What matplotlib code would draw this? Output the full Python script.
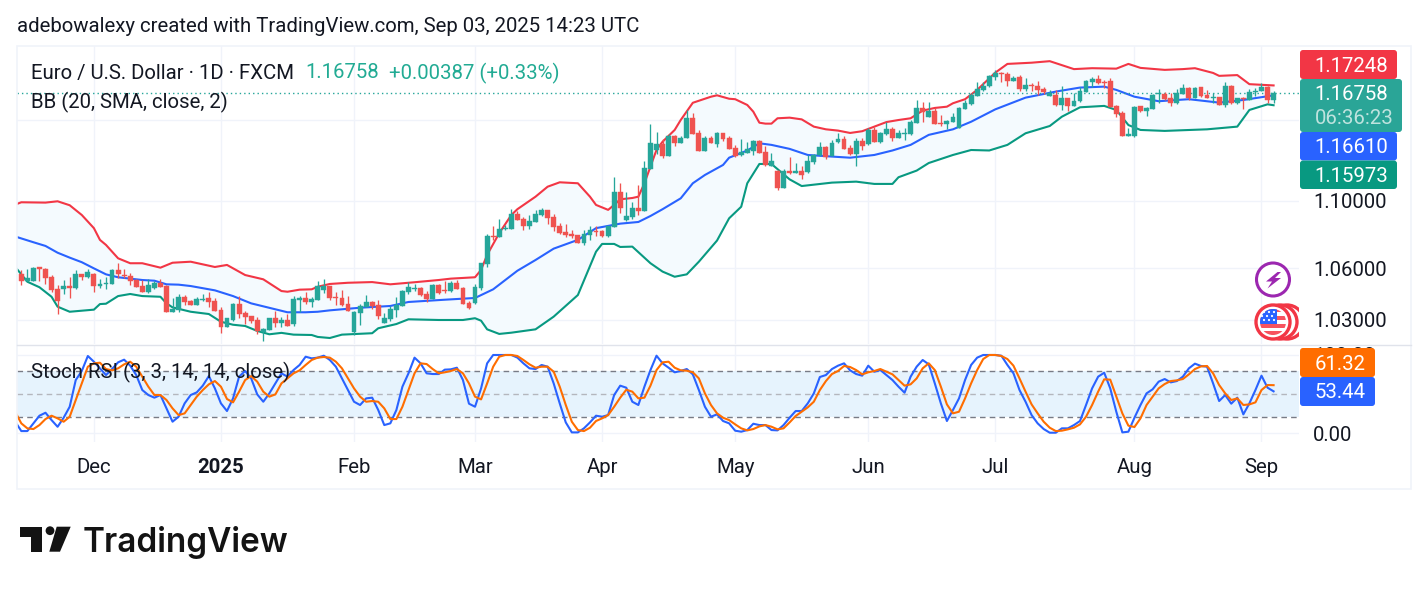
import numpy as np
import matplotlib
matplotlib.use('Agg')
import matplotlib.pyplot as plt
from matplotlib.patches import Circle, FancyBboxPatch, Polygon, Rectangle

plt.rcParams['font.family'] = ['Roboto', 'DejaVu Sans']

# daily EURUSD candles
opens = [
    1.0565, 1.0522, 1.0526, 1.0604, 1.0592, 1.0546, 1.0478, 1.0480, 1.0495, 1.0484,
    1.0565, 1.0546, 1.0565, 1.0495, 1.0507, 1.0507, 1.0589, 1.0561, 1.0553, 1.0530,
    1.0495, 1.0460, 1.0482, 1.0515, 1.0495, 1.0346, 1.0357, 1.0430, 1.0406, 1.0386,
    1.0414, 1.0426, 1.0408, 1.0357, 1.0262, 1.0300, 1.0391, 1.0340, 1.0323, 1.0298,
    1.0232, 1.0244, 1.0311, 1.0283, 1.0300, 1.0277, 1.0416, 1.0426, 1.0403, 1.0414,
    1.0472, 1.0495, 1.0433, 1.0426, 1.0391, 1.0232, 1.0340, 1.0372, 1.0403, 1.0386,
    1.0283, 1.0306, 1.0357, 1.0380, 1.0460, 1.0476, 1.0484, 1.0449, 1.0418, 1.0503,
    1.0472, 1.0466, 1.0512, 1.0484, 1.0397, 1.0397, 1.0484, 1.0624, 1.0790, 1.0784,
    1.0831, 1.0831, 1.0921, 1.0891, 1.0849, 1.0873, 1.0915, 1.0946, 1.0903, 1.0849,
    1.0814, 1.0802, 1.0796, 1.0748, 1.0796, 1.0819, 1.0819, 1.0790, 1.0843, 1.1055,
    1.0885, 1.0903, 1.0958, 1.0939, 1.1196, 1.1315, 1.1352, 1.1277, 1.1402, 1.1358,
    1.1390, 1.1516, 1.1421, 1.1308, 1.1390, 1.1352, 1.1421, 1.1390, 1.1327, 1.1283,
    1.1296, 1.1308, 1.1371, 1.1302, 1.1215, 1.1184, 1.1079, 1.1184, 1.1171, 1.1184,
    1.1178, 1.1240, 1.1283, 1.1333, 1.1277, 1.1365, 1.1383, 1.1327, 1.1290, 1.1371,
    1.1352, 1.1440, 1.1365, 1.1415, 1.1446, 1.1390, 1.1417, 1.1415, 1.1484, 1.1580,
    1.1522, 1.1561, 1.1484, 1.1478, 1.1490, 1.1453, 1.1573, 1.1605, 1.1657, 1.1696,
    1.1722, 1.1781, 1.1807, 1.1800, 1.1755, 1.1781, 1.1703, 1.1729, 1.1722, 1.1703,
    1.1659, 1.1664, 1.1599, 1.1644, 1.1593, 1.1625, 1.1683, 1.1748, 1.1768, 1.1748,
    1.1755, 1.1593, 1.1548, 1.1402, 1.1402, 1.1593, 1.1561, 1.1573, 1.1670, 1.1670,
    1.1644, 1.1612, 1.1670, 1.1709, 1.1644, 1.1716, 1.1664, 1.1644, 1.1651, 1.1599,
    1.1722, 1.1612, 1.1644, 1.1631, 1.1683, 1.1690, 1.1716, 1.1631,
]
highs = [
    1.0589, 1.0592, 1.0604, 1.0604, 1.0600, 1.0557, 1.0499, 1.0530, 1.0546, 1.0589,
    1.0565, 1.0596, 1.0569, 1.0534, 1.0546, 1.0592, 1.0628, 1.0592, 1.0569, 1.0538,
    1.0530, 1.0534, 1.0526, 1.0534, 1.0499, 1.0426, 1.0449, 1.0445, 1.0414, 1.0430,
    1.0449, 1.0462, 1.0424, 1.0372, 1.0311, 1.0399, 1.0437, 1.0353, 1.0323, 1.0315,
    1.0253, 1.0311, 1.0353, 1.0315, 1.0334, 1.0437, 1.0437, 1.0460, 1.0430, 1.0522,
    1.0534, 1.0495, 1.0462, 1.0472, 1.0437, 1.0349, 1.0391, 1.0441, 1.0410, 1.0414,
    1.0338, 1.0380, 1.0433, 1.0472, 1.0518, 1.0507, 1.0487, 1.0464, 1.0507, 1.0505,
    1.0522, 1.0522, 1.0530, 1.0487, 1.0410, 1.0507, 1.0629, 1.0802, 1.0849, 1.0889,
    1.0855, 1.0952, 1.0942, 1.0901, 1.0915, 1.0946, 1.0958, 1.0946, 1.0921, 1.0865,
    1.0861, 1.0825, 1.0796, 1.0825, 1.0849, 1.0849, 1.0825, 1.0849, 1.1144, 1.1107,
    1.1055, 1.0994, 1.1098, 1.1246, 1.1478, 1.1427, 1.1383, 1.1415, 1.1406, 1.1402,
    1.1567, 1.1546, 1.1440, 1.1402, 1.1402, 1.1427, 1.1421, 1.1402, 1.1346, 1.1383,
    1.1365, 1.1377, 1.1377, 1.1340, 1.1294, 1.1190, 1.1194, 1.1271, 1.1233, 1.1215,
    1.1283, 1.1290, 1.1365, 1.1340, 1.1377, 1.1421, 1.1402, 1.1346, 1.1390, 1.1390,
    1.1453, 1.1461, 1.1427, 1.1490, 1.1459, 1.1440, 1.1453, 1.1503, 1.1631, 1.1618,
    1.1618, 1.1578, 1.1535, 1.1503, 1.1546, 1.1586, 1.1631, 1.1674, 1.1748, 1.1748,
    1.1794, 1.1826, 1.1813, 1.1809, 1.1787, 1.1792, 1.1774, 1.1740, 1.1755, 1.1716,
    1.1696, 1.1696, 1.1722, 1.1644, 1.1677, 1.1716, 1.1761, 1.1781, 1.1794, 1.1761,
    1.1774, 1.1599, 1.1561, 1.1453, 1.1593, 1.1593, 1.1588, 1.1670, 1.1703, 1.1683,
    1.1674, 1.1703, 1.1735, 1.1716, 1.1716, 1.1716, 1.1696, 1.1677, 1.1651, 1.1748,
    1.1729, 1.1644, 1.1651, 1.1703, 1.1709, 1.1742, 1.1722, 1.1690,
]
lows = [
    1.0501, 1.0522, 1.0526, 1.0526, 1.0507, 1.0462, 1.0334, 1.0449, 1.0426, 1.0478,
    1.0530, 1.0542, 1.0460, 1.0482, 1.0476, 1.0507, 1.0540, 1.0542, 1.0503, 1.0488,
    1.0460, 1.0453, 1.0476, 1.0488, 1.0346, 1.0346, 1.0346, 1.0386, 1.0386, 1.0386,
    1.0406, 1.0372, 1.0349, 1.0228, 1.0262, 1.0296, 1.0310, 1.0277, 1.0281, 1.0221,
    1.0183, 1.0244, 1.0262, 1.0262, 1.0266, 1.0266, 1.0346, 1.0391, 1.0372, 1.0414,
    1.0456, 1.0414, 1.0386, 1.0380, 1.0351, 1.0217, 1.0274, 1.0372, 1.0361, 1.0308,
    1.0283, 1.0296, 1.0319, 1.0380, 1.0449, 1.0468, 1.0437, 1.0403, 1.0418, 1.0449,
    1.0455, 1.0460, 1.0478, 1.0391, 1.0363, 1.0391, 1.0472, 1.0608, 1.0766, 1.0784,
    1.0825, 1.0831, 1.0885, 1.0825, 1.0831, 1.0873, 1.0909, 1.0861, 1.0821, 1.0802,
    1.0784, 1.0778, 1.0748, 1.0736, 1.0766, 1.0790, 1.0784, 1.0786, 1.0843, 1.0927,
    1.0879, 1.0891, 1.0915, 1.0939, 1.1196, 1.1290, 1.1265, 1.1277, 1.1340, 1.1356,
    1.1390, 1.1415, 1.1308, 1.1308, 1.1358, 1.1333, 1.1371, 1.1321, 1.1269, 1.1277,
    1.1296, 1.1285, 1.1296, 1.1215, 1.1215, 1.1067, 1.1079, 1.1165, 1.1171, 1.1134,
    1.1171, 1.1227, 1.1277, 1.1258, 1.1277, 1.1358, 1.1321, 1.1283, 1.1215, 1.1315,
    1.1346, 1.1365, 1.1358, 1.1408, 1.1371, 1.1390, 1.1377, 1.1408, 1.1484, 1.1490,
    1.1522, 1.1478, 1.1465, 1.1446, 1.1490, 1.1453, 1.1573, 1.1599, 1.1657, 1.1690,
    1.1716, 1.1761, 1.1748, 1.1722, 1.1755, 1.1690, 1.1690, 1.1692, 1.1664, 1.1670,
    1.1657, 1.1593, 1.1567, 1.1559, 1.1593, 1.1618, 1.1683, 1.1716, 1.1735, 1.1709,
    1.1586, 1.1522, 1.1402, 1.1402, 1.1396, 1.1554, 1.1529, 1.1573, 1.1612, 1.1631,
    1.1593, 1.1605, 1.1670, 1.1631, 1.1644, 1.1653, 1.1644, 1.1612, 1.1599, 1.1586,
    1.1605, 1.1605, 1.1573, 1.1631, 1.1657, 1.1690, 1.1612, 1.1612,
]
closes = [
    1.0526, 1.0542, 1.0600, 1.0596, 1.0542, 1.0472, 1.0410, 1.0495, 1.0486, 1.0565,
    1.0548, 1.0577, 1.0495, 1.0505, 1.0515, 1.0589, 1.0565, 1.0553, 1.0526, 1.0488,
    1.0460, 1.0499, 1.0511, 1.0488, 1.0346, 1.0361, 1.0434, 1.0403, 1.0386, 1.0418,
    1.0422, 1.0403, 1.0351, 1.0262, 1.0311, 1.0391, 1.0334, 1.0317, 1.0294, 1.0236,
    1.0247, 1.0311, 1.0283, 1.0300, 1.0266, 1.0418, 1.0426, 1.0403, 1.0418, 1.0495,
    1.0495, 1.0426, 1.0424, 1.0386, 1.0351, 1.0346, 1.0380, 1.0403, 1.0380, 1.0323,
    1.0311, 1.0363, 1.0387, 1.0468, 1.0491, 1.0484, 1.0443, 1.0420, 1.0503, 1.0455,
    1.0464, 1.0512, 1.0478, 1.0391, 1.0368, 1.0489, 1.0629, 1.0790, 1.0784, 1.0831,
    1.0837, 1.0921, 1.0885, 1.0849, 1.0879, 1.0921, 1.0946, 1.0897, 1.0843, 1.0806,
    1.0796, 1.0790, 1.0748, 1.0802, 1.0825, 1.0814, 1.0790, 1.0849, 1.1055, 1.0958,
    1.0909, 1.0958, 1.0939, 1.1202, 1.1358, 1.1352, 1.1277, 1.1402, 1.1358, 1.1390,
    1.1516, 1.1415, 1.1308, 1.1390, 1.1358, 1.1421, 1.1383, 1.1321, 1.1277, 1.1302,
    1.1321, 1.1371, 1.1296, 1.1221, 1.1246, 1.1079, 1.1184, 1.1171, 1.1184, 1.1159,
    1.1246, 1.1283, 1.1333, 1.1271, 1.1358, 1.1383, 1.1321, 1.1290, 1.1371, 1.1340,
    1.1440, 1.1365, 1.1421, 1.1446, 1.1390, 1.1421, 1.1421, 1.1490, 1.1580, 1.1554,
    1.1561, 1.1478, 1.1478, 1.1497, 1.1522, 1.1580, 1.1612, 1.1664, 1.1703, 1.1722,
    1.1787, 1.1807, 1.1798, 1.1755, 1.1774, 1.1703, 1.1729, 1.1722, 1.1696, 1.1683,
    1.1677, 1.1599, 1.1644, 1.1593, 1.1625, 1.1690, 1.1755, 1.1768, 1.1742, 1.1742,
    1.1586, 1.1542, 1.1402, 1.1415, 1.1586, 1.1561, 1.1578, 1.1664, 1.1677, 1.1635,
    1.1612, 1.1677, 1.1709, 1.1644, 1.1709, 1.1657, 1.1644, 1.1651, 1.1599, 1.1722,
    1.1612, 1.1644, 1.1638, 1.1683, 1.1690, 1.1716, 1.1631, 1.16758,
]

# Bollinger bands, 20 SMA, 2 sigma
upper_idx = [
    -1, 0, 4, 6, 8, 10, 12, 13, 14, 16, 18, 20, 23, 25, 28, 32, 34, 37, 40, 43,
    44, 46, 48, 49, 51, 54, 58, 61, 65, 69, 71, 75, 76, 77, 79, 81, 82, 85, 87, 89,
    92, 94, 95, 97, 98, 99, 100, 101, 102, 103, 105, 106, 108, 109, 111, 112, 114, 115, 117, 118,
    120, 121, 122, 123, 124, 125, 127, 129, 131, 133, 135, 137, 139, 141, 143, 145, 147, 149, 151, 153,
    154, 156, 158, 161, 163, 167, 170, 172, 174, 177, 181, 183, 185, 189, 192, 194, 197, 198, 201, 203,
    207,
]
upper = [
    1.0978, 1.0992, 1.0990, 1.0998, 1.0974, 1.0915, 1.0836, 1.0766, 1.0736, 1.0657,
    1.0628, 1.0628, 1.0602, 1.0631, 1.0637, 1.0606, 1.0618, 1.0559, 1.0534, 1.0466,
    1.0462, 1.0474, 1.0476, 1.0491, 1.0507, 1.0514, 1.0518, 1.0505, 1.0517, 1.0530,
    1.0538, 1.0546, 1.0589, 1.0677, 1.0806, 1.0915, 1.0950, 1.1026, 1.1087, 1.1114,
    1.1108, 1.1026, 1.0976, 1.0946, 1.0976, 1.1010, 1.1014, 1.1018, 1.1026, 1.1108,
    1.1315, 1.1366, 1.1440, 1.1503, 1.1613, 1.1626, 1.1652, 1.1661, 1.1639, 1.1636,
    1.1599, 1.1556, 1.1486, 1.1480, 1.1480, 1.1514, 1.1518, 1.1507, 1.1461, 1.1444,
    1.1436, 1.1421, 1.1432, 1.1461, 1.1490, 1.1503, 1.1514, 1.1563, 1.1580, 1.1588,
    1.1610, 1.1636, 1.1696, 1.1808, 1.1865, 1.1873, 1.1883, 1.1857, 1.1831, 1.1837,
    1.1834, 1.1865, 1.1839, 1.1826, 1.1831, 1.1837, 1.1806, 1.1787, 1.1792, 1.1733,
    1.17248,
]
middle_idx = [
    -1, 2, 4, 6, 8, 10, 12, 14, 16, 20, 22, 24, 26, 28, 32, 35, 38, 42, 44, 47,
    49, 51, 56, 61, 64, 70, 75, 78, 82, 85, 88, 92, 95, 99, 102, 104, 106, 109, 111, 113,
    116, 117, 120, 122, 124, 127, 130, 134, 137, 141, 144, 147, 150, 154, 157, 161, 166, 171, 175, 179,
    181, 184, 188, 193, 198, 202, 207,
]
middle = [
    1.0786, 1.0752, 1.0730, 1.0690, 1.0661, 1.0634, 1.0598, 1.0563, 1.0546, 1.0530,
    1.0526, 1.0505, 1.0503, 1.0495, 1.0470, 1.0437, 1.0395, 1.0361, 1.0344, 1.0344,
    1.0347, 1.0355, 1.0370, 1.0380, 1.0403, 1.0416, 1.0426, 1.0476, 1.0584, 1.0647,
    1.0714, 1.0766, 1.0836, 1.0863, 1.0873, 1.0909, 1.0950, 1.1016, 1.1108, 1.1159,
    1.1221, 1.1266, 1.1311, 1.1356, 1.1346, 1.1321, 1.1283, 1.1273, 1.1266, 1.1283,
    1.1311, 1.1346, 1.1409, 1.1444, 1.1492, 1.1571, 1.1646, 1.1685, 1.1711, 1.1717,
    1.1696, 1.1652, 1.1623, 1.1636, 1.1614, 1.1631, 1.16610,
]
lower_idx = [
    -1, 1, 3, 5, 6, 8, 12, 13, 14, 16, 18, 20, 23, 24, 25, 28, 31, 33, 35, 37,
    39, 41, 43, 45, 48, 49, 51, 53, 58, 59, 62, 64, 69, 73, 75, 76, 77, 79, 81, 85,
    88, 92, 95, 96, 98, 99, 101, 104, 106, 108, 110, 112, 115, 117, 119, 120, 122, 124, 127, 129,
    134, 138, 141, 144, 145, 148, 150, 154, 157, 160, 163, 166, 170, 172, 175, 179, 181, 183, 185, 189,
    196, 201, 203, 206, 207,
]
lower = [
    1.0606, 1.0520, 1.0488, 1.0433, 1.0376, 1.0347, 1.0359, 1.0391, 1.0393, 1.0437,
    1.0449, 1.0437, 1.0433, 1.0395, 1.0372, 1.0347, 1.0334, 1.0290, 1.0273, 1.0266,
    1.0238, 1.0219, 1.0227, 1.0217, 1.0215, 1.0204, 1.0198, 1.0217, 1.0225, 1.0253,
    1.0277, 1.0304, 1.0300, 1.0300, 1.0310, 1.0296, 1.0247, 1.0221, 1.0228, 1.0247,
    1.0319, 1.0443, 1.0696, 1.0742, 1.0742, 1.0724, 1.0726, 1.0628, 1.0579, 1.0549,
    1.0563, 1.0637, 1.0762, 1.0895, 1.0965, 1.1108, 1.1227, 1.1227, 1.1132, 1.1091,
    1.1112, 1.1118, 1.1104, 1.1104, 1.1145, 1.1186, 1.1233, 1.1283, 1.1314, 1.1311,
    1.1346, 1.1419, 1.1465, 1.1524, 1.1584, 1.1593, 1.1567, 1.1471, 1.1440, 1.1434,
    1.1444, 1.1461, 1.1567, 1.1603, 1.15973,
]

# stochastic RSI, first value is the bar before the first candle
stoch_k = [
    14.5,
    2.5, 2.5, 12.4, 22.2, 26, 16.6, 8, 19.6, 33.7, 67.9,
    79.5, 98.7, 91.4, 82.9, 74.3, 82, 90.6, 94, 86.3, 74.3,
    55.1, 48.7, 45.3, 48.7, 31.6, 14.5, 20.9, 38, 48.7, 52.1,
    60.7, 73, 57.2, 38, 28.2, 44.4, 72.2, 79.5, 70, 49.5,
    40.1, 50.8, 63.6, 76.5, 72.2, 80.7, 87.2, 97.8, 95.7, 96.6,
    99.1, 93.6, 85, 70, 55.1, 40.1, 35.9, 44.4, 45.3, 29.5,
    10.2, 12.4, 29.5, 59.4, 76.5, 96.6, 89.3, 76.5, 75.6, 75.6,
    81.2, 81.6, 83.7, 67.9, 37.6, 33.7, 57.2, 89.3, 100, 100,
    100, 100, 96.6, 89.3, 82.9, 82, 87.2, 85, 63.6, 38,
    13.6, 0.8, 0.8, 6, 13.6, 22.2, 20.9, 23, 48.7, 60.7,
    58.1, 40.1, 35.9, 59.4, 80.7, 99.1, 89.3, 83.7, 77.8, 79.5,
    82, 75.2, 55.1, 33.7, 20.9, 23.9, 15.4, 12.4, 3, 1.7,
    3.8, 11.9, 10.2, 10.2, 3.8, 3.4, 10.2, 19.6, 28.2, 28.2,
    38, 50.8, 71.8, 74.3, 82, 86.3, 89.3, 80.3, 75.6, 73.5,
    86.3, 78.6, 80.7, 74.3, 67.9, 59.4, 51.7, 72.2, 85, 93.6,
    88, 63.6, 38, 15.4, 29.5, 44.4, 67.9, 87.2, 96.6, 100,
    100, 100, 99.1, 87.2, 76.5, 55.1, 40.1, 23, 12.4, 5.1,
    0.4, 0.4, 6, 6, 10.2, 15.4, 35.9, 57.2, 72.2, 77.3,
    57.2, 27.3, 0.8, 1.7, 19.6, 35.9, 50.8, 56, 65.8, 69.2,
    64.9, 66.6, 72.2, 82.9, 88.9, 85.9, 85, 63.6, 41, 48.7,
    37.6, 45.3, 23.9, 38, 55.1, 73.5, 58.1, 53.44,
]
stoch_d = [
    27,
    12.4, 6, 5.1, 10.2, 17.9, 22.2, 18.8, 14.5, 20.9, 42.3,
    63.6, 85, 89.3, 90.1, 82, 80.3, 82.9, 88, 91.4, 85,
    72.2, 59.4, 48.7, 48.7, 42.3, 31.6, 23, 25.2, 35.9, 46.6,
    55.1, 62.4, 66.6, 59.4, 43.6, 39.3, 53, 67.9, 73, 65.8,
    53, 46.6, 49.5, 63.6, 70, 76.5, 80.3, 87.2, 93.6, 96.6,
    97.4, 96.6, 91.4, 82.9, 70, 57.2, 46.6, 40.1, 41, 40.1,
    31.6, 17.9, 17.9, 33.7, 55.1, 76.5, 89.3, 88.4, 82, 76.5,
    77.8, 79.5, 82, 76.5, 63.6, 46.6, 43.1, 63.6, 85, 97.8,
    100, 100, 98.7, 93.6, 88, 83.7, 85, 85, 78.6, 59.4,
    35.9, 14.5, 3.8, 2.5, 6.8, 15.4, 18.8, 23, 33.7, 45.3,
    55.5, 53, 44.4, 45.3, 60.7, 80.7, 90.6, 91.4, 83.7, 80.3,
    79.9, 77.8, 70, 50.8, 35.9, 25.2, 19.6, 16.6, 11.1, 6,
    3.4, 5.1, 8.5, 10.2, 8.1, 4.7, 6, 13.6, 21.8, 27.3,
    32.9, 40.1, 55.1, 66.6, 75.6, 79.5, 85.9, 84.6, 80.7, 75.2,
    77.8, 79.5, 82, 78.6, 75.2, 67.9, 60.7, 62.4, 70, 82.9,
    89.3, 80.7, 59.4, 36.7, 25.2, 27.3, 44.4, 63.6, 80.7, 94.8,
    100, 100, 98.7, 94.8, 86.3, 70, 53, 36.7, 25.2, 14.5,
    6.8, 2.5, 3, 4.7, 6.8, 11.1, 20.9, 35.9, 53, 68.8,
    68.4, 46.6, 25.2, 9.4, 7.7, 18.8, 35.9, 46.6, 57.2, 62.8,
    66.6, 67.5, 69.2, 75.2, 82, 85.4, 85.9, 76.5, 61.5, 50.8,
    42.3, 44.4, 35.9, 36.7, 39.3, 55.1, 61.5, 61.32,
]

month_idx = [12, 33, 55, 75, 96, 118, 140, 161, 184, 205]
month_labels = ['Dec', '2025', 'Feb', 'Mar', 'Apr', 'May', 'Jun', 'Jul', 'Aug', 'Sep']
price_ticks = [1.03, 1.06, 1.10, 1.15]
price_labels = ['1.03000', '1.06000', '1.10000', '']
stoch_ticks = [0, 100]
stoch_labels = ['0.00', '100.00']

UP = '#26a69a'
DOWN = '#ef5350'
GRID = '#f0f3fa'
INK = '#131722'
FS = 14.65
LW = 1.5
W, H = 1428, 591

fig = plt.figure(figsize=(W / 100, H / 100), dpi=100, facecolor='white')
ax = fig.add_axes([17 / W, 1 - 344 / H, 1282 / W, 298 / H])
ax2 = fig.add_axes([17 / W, 1 - 442 / H, 1282 / W, 97 / H])
ov = fig.add_axes([0, 0, 1, 1], zorder=10)
ov.set_xlim(0, W)
ov.set_ylim(H, 0)
ov.axis('off')
ov.patch.set_alpha(0)

x = np.arange(len(closes))
o = np.array(opens)
c = np.array(closes)
colors = [UP if b >= a else DOWN for a, b in zip(o, c)]

# price pane
ax.set_yscale('log')
ax.set_xlim(-0.71, 211.2)
ax.set_ylim(1.01643, 1.1983)
ax.fill(np.r_[upper_idx, lower_idx[::-1]], np.r_[upper, lower[::-1]], color='#f4fafe', lw=0, zorder=1)
ax.plot(upper_idx, upper, color='#f23645', lw=LW, zorder=2)
ax.plot(middle_idx, middle, color='#2962ff', lw=LW, zorder=2)
ax.plot(lower_idx, lower, color='#089981', lw=LW, zorder=2)
ax.axhline(closes[-1], color=UP, lw=1, ls=(0, (1, 2.2)), zorder=2)
ax.vlines(x, lows, highs, colors=colors, lw=0.95, zorder=3)
ax.bar(x, np.abs(c - o), bottom=np.minimum(o, c), width=0.8, color=colors,
       edgecolor=colors, lw=0.3, zorder=4)

# stoch pane
ax2.set_xlim(-0.71, 211.2)
ax2.set_ylim(-11.5, 112.8)
ax2.axhspan(20, 80, color='#e6f3fd', lw=0, zorder=1)
ax2.axhline(80, color='#787b86', lw=1, ls=(0, (4, 3)), zorder=2)
ax2.axhline(50, color='#b4b6bd', lw=1, ls=(0, (4, 3)), zorder=2)
ax2.axhline(20, color='#787b86', lw=1, ls=(0, (4, 3)), zorder=2)
stoch_x = np.arange(-1, len(closes))
ax2.plot(stoch_x, stoch_k, color='#2962ff', lw=LW, zorder=3)
ax2.plot(stoch_x, stoch_d, color='#ff6d00', lw=LW, zorder=4)

for a in (ax, ax2):
    for s in a.spines.values():
        s.set_visible(False)
    a.set_axisbelow(True)
    a.grid(True, which='major', color=GRID, lw=1)
    a.minorticks_off()
    a.yaxis.tick_right()
    a.tick_params(axis='y', length=0, pad=10, labelsize=FS, labelcolor=INK)
    a.tick_params(axis='x', length=0)
    a.set_xticks(month_idx)

ax.set_yticks(price_ticks, price_labels)
ax.set_xticklabels([])
ax2.set_yticks(stoch_ticks, stoch_labels)
ax2.set_xticklabels(month_labels, fontsize=FS, color=INK)
ax2.tick_params(axis='x', pad=11.5)
for lab in ax2.get_xticklabels():
    if lab.get_text() == '2025':
        lab.set_fontweight('bold')
for lab in ax.get_yticklabels() + ax2.get_yticklabels():
    lab.set_ha('left')

# frame around the chart
ov.add_patch(Rectangle((17, 45.5), 1394, 443.5, fill=False, ec=GRID, lw=1.2))
ov.plot([17, 1411], [344.5, 344.5], color='#e0e3eb', lw=1)

# header, legend
ov.text(17, 27, 'adebowalexy created with TradingView.com, Sep 03, 2025 14:23 UTC',
        fontsize=FS, color=INK, va='center')
ov.text(31, 73, 'Euro / U.S. Dollar · 1D · FXCM', fontsize=FS, color=INK, va='center')
ov.text(305, 73, '1.16758', fontsize=FS, color='#22ab94', va='center')
ov.text(389, 73, '+0.00387 (+0.33%)', fontsize=FS, color='#22ab94', va='center')
ov.text(31, 102, 'BB (20, SMA, close, 2)', fontsize=FS, color=INK, va='center')
ov.text(31, 372, 'Stoch RSI (3, 3, 14, 14, close)', fontsize=FS, color=INK, va='center')


def price_tag(top, bottom, right, color):
    ov.add_patch(FancyBboxPatch((1300, top), right - 1300, bottom - top, fc=color, ec='none',
                                boxstyle='round,pad=0,rounding_size=3'))


# value tags on the axis
price_tag(50, 79, 1397, '#f23645')
price_tag(132, 160.5, 1397, '#2962ff')
price_tag(160.5, 189, 1397, '#089981')
price_tag(79, 132, 1402, '#2aa597')
price_tag(348, 377, 1375, '#ff6d00')
price_tag(377, 406, 1375, '#2962ff')
for ty, txt, col in [(66, '1.17248', 'white'), (94.5, '1.16758', 'white'), (119, '06:36:23', '#bfe3de'),
                     (147.5, '1.16610', 'white'), (176, '1.15973', 'white'),
                     (364, '61.32', 'white'), (393, '53.44', 'white')]:
    ov.text(1314.5, ty, txt, fontsize=FS, color=col, va='center')

# event badges
ov.add_patch(Circle((1273, 279.5), 16.5, fc='white', ec='#9c27b0', lw=2.2))
ov.add_patch(Polygon([(1277.5, 272), (1266, 281.5), (1272, 281.5), (1267.5, 288.5), (1281, 278), (1275, 278), (1281, 272)],
                     fc='#9c27b0', ec='none'))
pane_clip = Rectangle((0, 0), 1299, H, transform=ov.transData)
for cx in (1287, 1280, 1273):
    ring = Circle((cx, 322), 17, fc='white', ec='#f23645', lw=2.4)
    ov.add_patch(ring)
    ring.set_clip_path(pane_clip)
flag_clip = Circle((1273, 322), 13, transform=ov.transData)
for y0, y1 in [(308, 312), (316, 320), (324, 328), (331, 336)]:
    stripe = Rectangle((1258, y0), 30, y1 - y0, fc='#f7525f', ec='none')
    ov.add_patch(stripe)
    stripe.set_clip_path(flag_clip)
canton = Rectangle((1258, 307), 19, 17, fc='#2962ff', ec='none')
ov.add_patch(canton)
canton.set_clip_path(flag_clip)
for sx, sy in [(1264, 312), (1269, 312), (1274, 312), (1262, 316), (1267, 316), (1272, 316),
               (1264, 320), (1269, 320), (1274, 320)]:
    ov.add_patch(Circle((sx, sy), 1.1, fc='white', ec='none'))

# logo
ov.add_patch(Polygon([(20, 526.7), (41.7, 526.7), (41.7, 551.7), (30.7, 551.7), (30.7, 536.7), (20, 536.7)],
                     fc='#131313', ec='none'))
ov.add_patch(Circle((50, 530.7), 4.4, fc='#131313', ec='none'))
ov.add_patch(Polygon([(56.7, 526.7), (70.7, 526.7), (60, 551.7), (49.3, 551.7)], fc='#131313', ec='none'))
ov.text(82.5, 551.7, 'TradingView', fontsize=24, fontfamily='Inter', fontweight='semibold',
        color='#131313', va='baseline')

fig.savefig('out.png', dpi=100)
